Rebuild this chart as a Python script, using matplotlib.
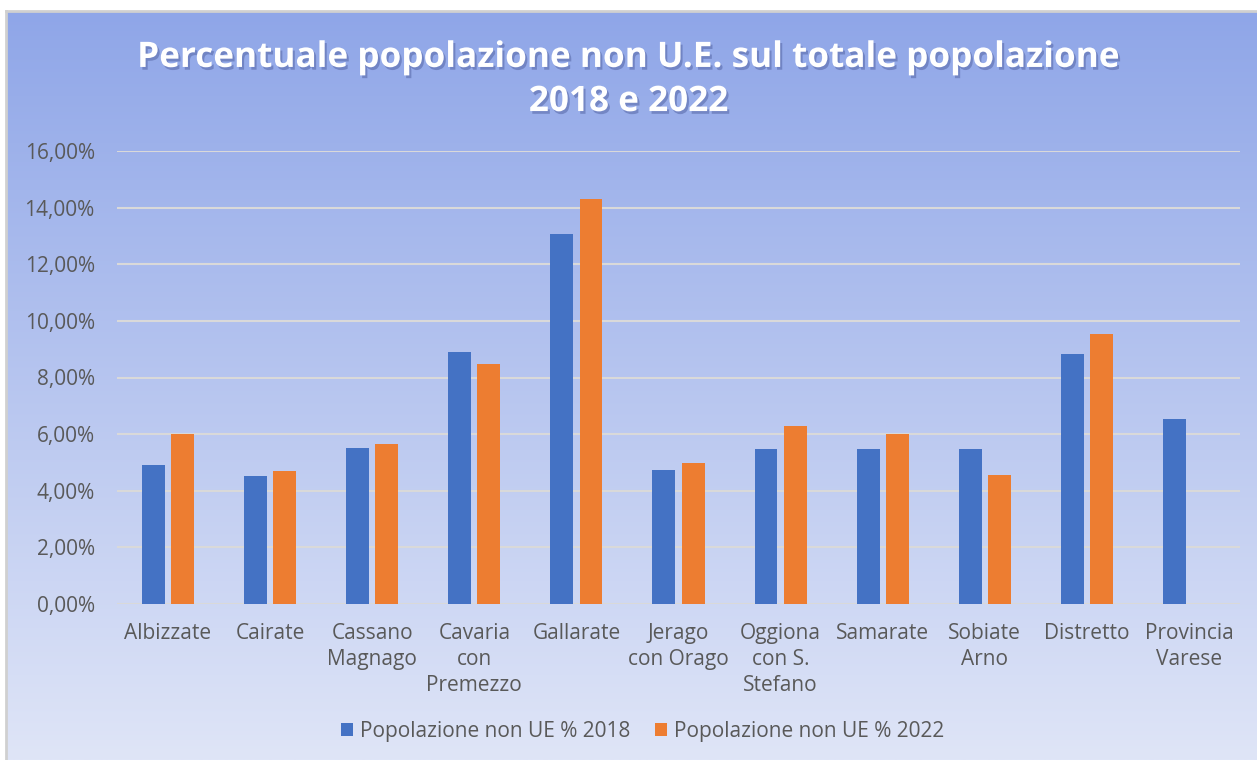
import numpy as np
import matplotlib.pyplot as plt
import matplotlib.patheffects as pe
from matplotlib.ticker import FuncFormatter

categories = ["Albizzate", "Cairate", "Cassano\nMagnago", "Cavaria\ncon\nPremezzo",
              "Gallarate", "Jerago\ncon Orago", "Oggiona\ncon S.\nStefano", "Samarate",
              "Sobiate\nArno", "Distretto", "Provincia\nVarese"]
pop_2018 = [4.91, 4.52, 5.51, 8.90, 13.07, 4.73, 5.48, 5.48, 5.48, 8.83, 6.54]
pop_2022 = [6.01, 4.70, 5.65, 8.48, 14.31, 4.98, 6.29, 6.01, 4.56, 9.54, np.nan]
yticks = [0, 2, 4, 6, 8, 10, 12, 14, 16]

plt.rcParams["font.family"] = ["Open Sans", "DejaVu Sans"]

W, H = 1257, 760
fig = plt.figure(figsize=(W / 100, H / 100), dpi=100)
fig.patch.set_facecolor("white")

# gradient background
bg = fig.add_axes([6 / W, 0, 1 - 6 / W, 1 - 11 / H])
top = np.array([143, 166, 232]) / 255
bot = np.array([223, 229, 247]) / 255
t = np.linspace(0, 1, 256)[:, None]
grad = top * (1 - t)[:, :, None] + bot * t[:, :, None]
grad = np.repeat(grad, 2, axis=1)
bg.imshow(grad, aspect="auto", extent=[0, 1, 0, 1])
bg.set_axis_off()
fig.add_artist(plt.Line2D([6 / W, 6 / W], [0, 1 - 11 / H], color="#d0d0d0", lw=2))
fig.add_artist(plt.Line2D([6 / W, 1], [1 - 11 / H, 1 - 11 / H], color="#d0d0d0", lw=2))

ax = fig.add_axes([117 / W, (H - 604) / H, (1240 - 117) / W, (604 - 151) / H])
ax.patch.set_alpha(0)

x = np.arange(len(categories))
w = 0.225
ax.bar(x - 0.143, pop_2018, w, color="#4472c4", label="Popolazione non UE % 2018", zorder=3)
ax.bar(x + 0.143, pop_2022, w, color="#ed7d31", label="Popolazione non UE % 2022", zorder=3)

ax.set_xlim(-0.5, len(categories) - 0.5)
ax.set_ylim(0, 16)
ax.set_yticks(yticks)
ax.yaxis.set_major_formatter(FuncFormatter(lambda v, p: f"{v:.2f}%".replace(".", ",")))
ax.grid(axis="y", color="#d9d9d9", lw=1.5, zorder=0)
for s in ax.spines.values():
    s.set_visible(False)
ax.tick_params(length=0, colors="#595959", labelsize=15)
ax.tick_params(axis="y", pad=16)
ax.set_xticks(x)
ax.set_xticklabels(categories, linespacing=1.33, va="top")
ax.tick_params(axis="x", pad=13.5)

fig.text(0.5, 1 - 80 / H, "Percentuale popolazione non U.E. sul totale popolazione\n2018 e 2022",
         ha="center", va="center", color="white", fontsize=25.3, fontweight="bold",
         linespacing=1.3,
         path_effects=[pe.withSimplePatchShadow(offset=(1.5, -2), shadow_rgbFace="#5060a0", alpha=0.5)])

fig.legend(loc="center", bbox_to_anchor=(0.511, 1 - 731 / H), ncol=2, frameon=False,
           fontsize=15, labelcolor="#595959", handlelength=0.6, handleheight=0.6,
           handletextpad=0.3, columnspacing=1.2)

fig.savefig("out.png", dpi=100)
